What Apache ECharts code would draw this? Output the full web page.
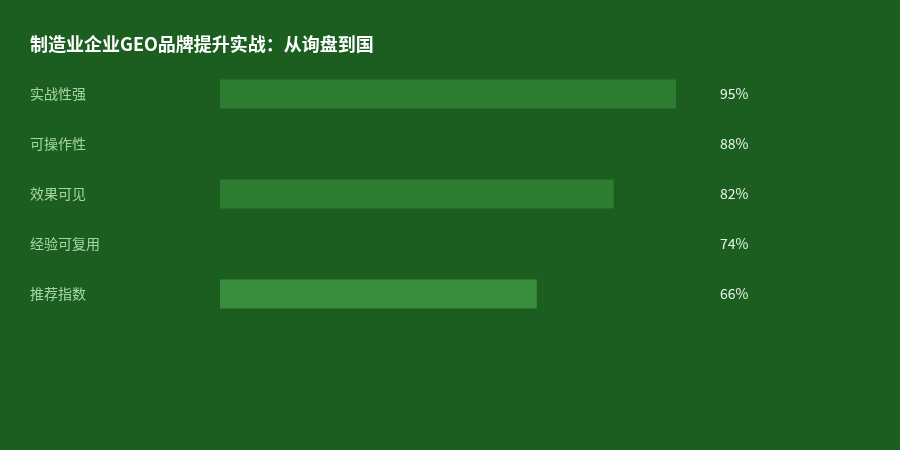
<!DOCTYPE html>
<html>
<head>
<meta charset="utf-8">
<script src="https://cdn.jsdelivr.net/npm/echarts@6/dist/echarts.min.js"></script>
<style>
  html,body{margin:0;padding:0;background:#1b5e20;}
  #main{width:900px;height:450px;}
</style>
</head>
<body>
<div id="main"></div>
<script>
// 指标名称
var categories = ["实战性强", "可操作性", "效果可见", "经验可复用", "推荐指数"];
// 百分比数值
var values = [95, 88, 82, 74, 66];
// 每根柱子的颜色（第2、4根与背景同色）
var barColors = ["#2e7d32", "#1b5e20", "#2e7d32", "#1b5e20", "#388e3c"];

var myChart = echarts.init(document.getElementById("main"));

var option = {
    backgroundColor: "#1b5e20",
    title: {
        text: "制造业企业GEO品牌提升实战：从询盘到国",
        left: 25,
        top: 30,
        textStyle: {
            color: "#ffffff",
            fontSize: 18,
            fontWeight: "bold",
            fontFamily: "Noto Sans CJK SC"
        }
    },
    grid: {
        left: 220,
        right: 200,
        top: 69,
        height: 250
    },
    xAxis: {
        type: "value",
        min: 0,
        max: 100,
        show: false
    },
    yAxis: [
        {
            type: "category",
            inverse: true,
            data: categories,
            axisLine: {show: false},
            axisTick: {show: false},
            axisLabel: {
                align: "left",
                margin: 190,
                color: "#a5d6a7",
                fontSize: 14,
                fontFamily: "Noto Sans CJK SC"
            }
        },
        {
            type: "category",
            inverse: true,
            position: "right",
            data: values.map(function(v){ return v + "%"; }),
            axisLine: {show: false},
            axisTick: {show: false},
            axisLabel: {
                align: "left",
                margin: 20,
                color: "#e8f5e9",
                fontSize: 14,
                fontFamily: "Noto Sans CJK SC"
            }
        }
    ],
    series: [
        {
            type: "bar",
            barWidth: 29,
            silent: true,
            data: values.map(function(v, i){
                return {value: v, itemStyle: {color: barColors[i]}};
            })
        }
    ]
};

myChart.setOption(option);
</script>
</body>
</html>
